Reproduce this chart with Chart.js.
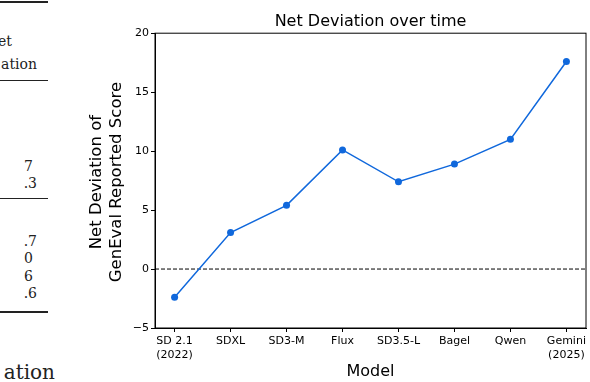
<!DOCTYPE html>
<html>
<head>
<meta charset="utf-8">
<script src="https://cdn.jsdelivr.net/npm/chart.js@4.4.1/dist/chart.umd.min.js"></script>
<style>
  html, body { margin: 0; padding: 0; background: #fff; }
  #wrap { position: relative; width: 590px; height: 382px; overflow: hidden; }
  #myChart { position: absolute; left: 0; top: 0; }
  .tbl { position: absolute; font-family: "DejaVu Serif", serif; font-size: 14px; line-height: 14px; color: #222; white-space: nowrap; }
  .rule { position: absolute; left: 0; width: 48px; background: #222; }
</style>
</head>
<body>
<div id="wrap">
  <!-- cropped table fragment to the left of the figure -->
  <div class="rule" style="top:1px;height:2px"></div>
  <div class="tbl" style="right:578px;top:34px">et</div>
  <div class="tbl" style="right:553px;top:57px">ation</div>
  <div class="rule" style="top:80px;height:1px"></div>
  <div class="tbl" style="right:557px;top:159px">7</div>
  <div class="tbl" style="right:553px;top:176px">.3</div>
  <div class="rule" style="top:198px;height:1px"></div>
  <div class="tbl" style="right:553px;top:234px">.7</div>
  <div class="tbl" style="right:557px;top:251px">0</div>
  <div class="tbl" style="right:557px;top:269px">6</div>
  <div class="tbl" style="right:553px;top:286px">.6</div>
  <div class="rule" style="top:311px;height:2px"></div>
  <div class="tbl" style="right:535px;top:362px;font-size:20px;line-height:20px">ation</div>
  <canvas id="myChart" width="590" height="382"></canvas>
</div>
<script>
 // データ
 const models = [['SD 2.1', '(2022)'], 'SDXL', 'SD3-M', 'Flux', 'SD3.5-L', 'Bagel', 'Qwen', ['Gemini', '(2025)']];
 const netDeviation = [-2.4, 3.1, 5.4, 10.1, 7.4, 8.9, 11.0, 17.6];
 const yTicks = [-5, 0, 5, 10, 15, 20];
 const yTitle = ['Net Deviation of', 'GenEval Reported Score'];

 const FONT = 'DejaVu Sans';
 const BLUE = '#1068dc';
 const margin = 0.35; // matplotlib style x margins

 // frame round the plot, dashed zero line, and the two line y label
 const framePlugin = {
   id: 'frame',
   beforeDatasetsDraw(chart) {
     const {ctx, chartArea: a, scales: {y}} = chart;
     const y0 = y.getPixelForValue(0);
     ctx.save();
     ctx.strokeStyle = '#000';
     ctx.lineWidth = 1;
     ctx.setLineDash([4, 2]);
     ctx.beginPath();
     ctx.moveTo(a.left, y0);
     ctx.lineTo(a.right, y0);
     ctx.stroke();
     ctx.restore();
   },
   afterDraw(chart) {
     const {ctx, chartArea: a} = chart;
     ctx.save();
     ctx.strokeStyle = '#000';
     ctx.lineWidth = 1;
     ctx.strokeRect(a.left, a.top, a.right - a.left, a.bottom - a.top);

     // y label
     ctx.font = '16.5px "' + FONT + '"';
     ctx.fillStyle = '#000';
     ctx.textAlign = 'center';
     ctx.textBaseline = 'alphabetic';
     const mid = (a.top + a.bottom) / 2 + 1.5;
     ctx.translate(101, mid);
     ctx.rotate(-Math.PI / 2);
     yTitle.forEach((t, i) => ctx.fillText(t, 0, i * 19.5));
     ctx.restore();
   }
 };

 const ctx = document.getElementById('myChart').getContext('2d');
 const chart = new Chart(ctx, {
   type: 'line',
   data: {
     datasets: [{
       data: netDeviation.map((v, i) => ({x: i, y: v})),
       borderColor: BLUE,
       backgroundColor: BLUE,
       borderWidth: 1.5,
       pointRadius: 3.5,
       pointBorderWidth: 0,
       pointBackgroundColor: BLUE,
       fill: false,
       tension: 0
     }]
   },
   options: {
     responsive: false,
     animation: false,
     layout: { padding: { left: 92, right: 1, top: 0, bottom: 2 } },
     plugins: {
       legend: { display: false },
       tooltip: { enabled: false },
       title: {
         display: true,
         text: 'Net Deviation over time',
         color: '#000',
         fullSize: false,
         font: { family: FONT, size: 16, weight: 'normal', lineHeight: 1.2 },
         padding: { top: 12, bottom: 2 }
       }
     },
     scales: {
       x: {
         type: 'linear',
         min: -margin,
         max: models.length - 1 + margin,
         afterBuildTicks: (s) => { s.ticks = models.map((m, i) => ({value: i})); },
         afterFit: (s) => { s.height = 52; },
         ticks: {
           color: '#000',
           font: { family: FONT, size: 11 },
           padding: 3,
           maxRotation: 0,
           autoSkip: false,
           callback: (v) => models[v]
         },
         grid: { drawOnChartArea: false, drawTicks: true, tickLength: 4, color: '#000' },
         border: { display: true, color: '#000', width: 1 },
         title: {
           display: true,
           text: 'Model',
           color: '#000',
           font: { family: FONT, size: 16, lineHeight: 1.0 },
           padding: { top: 0, bottom: 0 }
         }
       },
       y: {
         min: yTicks[0],
         max: yTicks[yTicks.length - 1],
         afterBuildTicks: (s) => { s.ticks = yTicks.map(v => ({value: v})); },
         afterFit: (s) => { s.width = 155 - 92; },
         ticks: {
           color: '#000',
           font: { family: FONT, size: 11 },
           padding: 2,
           callback: (v) => String(v).replace('-', '\u2212')
         },
         grid: { drawOnChartArea: false, drawTicks: true, tickLength: 4, color: '#000' },
         border: { display: true, color: '#000', width: 1 }
       }
     }
   },
   plugins: [framePlugin]
 });
</script>
</body>
</html>
